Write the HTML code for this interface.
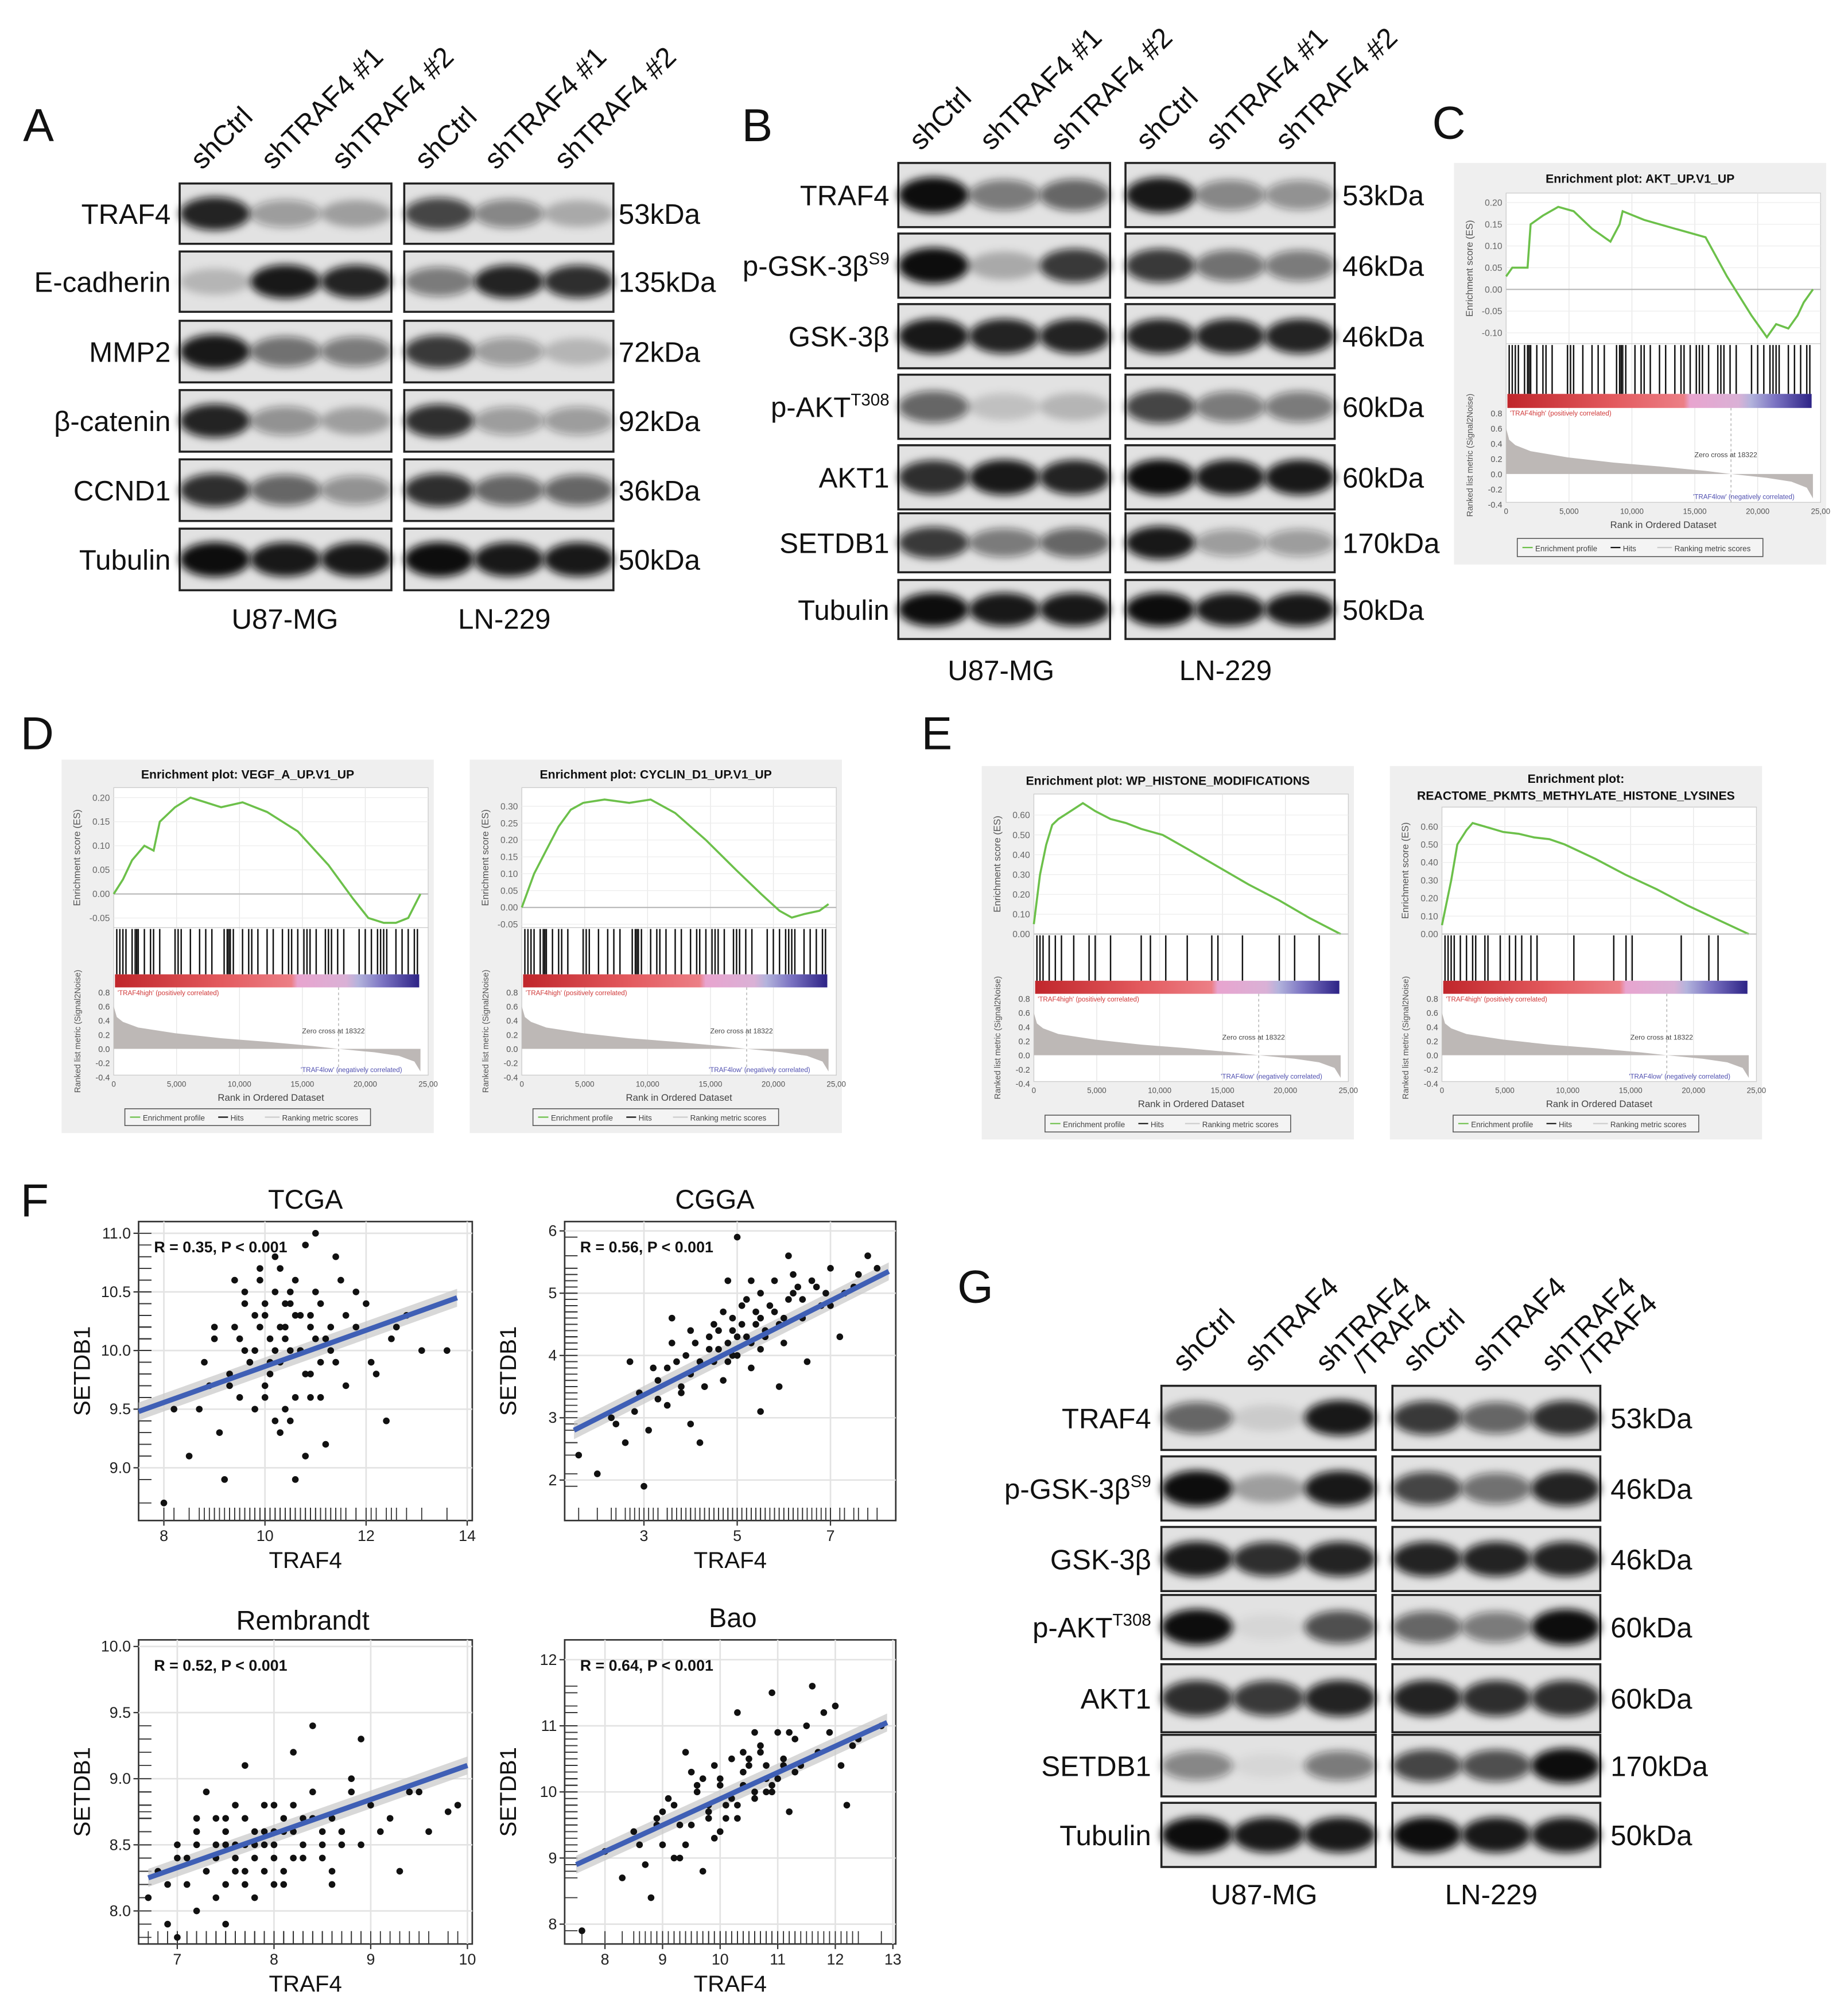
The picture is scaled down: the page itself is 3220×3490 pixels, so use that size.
<!DOCTYPE html>
<html><head><meta charset="utf-8"><style>
html,body{margin:0;padding:0;background:#fff;width:3220px;height:3490px;overflow:hidden}
svg{display:block}
text{font-family:"Liberation Sans",Arial,sans-serif}
</style></head><body>
<svg id="fig" xmlns="http://www.w3.org/2000/svg" width="3220" height="3490" viewBox="0 0 1440 1561" preserveAspectRatio="none">
<defs>
<filter id="blur" x="-20%" y="-50%" width="140%" height="200%"><feGaussianBlur stdDeviation="3.2"/></filter>
<linearGradient id="cbar" x1="0" x2="1" y1="0" y2="0">
<stop offset="0" stop-color="#c0262b"/><stop offset="0.35" stop-color="#e35a5e"/><stop offset="0.58" stop-color="#ec7f86"/><stop offset="0.6" stop-color="#e8a4cf"/><stop offset="0.76" stop-color="#dab1d6"/><stop offset="0.8" stop-color="#b3b3dc"/><stop offset="0.88" stop-color="#7b73c2"/><stop offset="1" stop-color="#2d2386"/></linearGradient>
</defs>
</svg>
<script>
const NS='http://www.w3.org/2000/svg';
const fig=document.getElementById('fig');
function mk(tag,attrs,parent,txt){const e=document.createElementNS(NS,tag);for(const k in attrs)e.setAttribute(k,attrs[k]);if(txt!==undefined)e.textContent=txt;(parent||fig).appendChild(e);return e;}

// ---------------- Western blot data (band intensity per lane, 0..1) ----------------
const blotA_rows=['TRAF4','E-cadherin','MMP2','β-catenin','CCND1','Tubulin'];
const blotA_kda=['53kDa','135kDa','72kDa','92kDa','36kDa','50kDa'];
const blotA_u87=[[0.9,0.35,0.3],[0.2,0.95,0.9],[0.95,0.55,0.5],[0.9,0.4,0.3],[0.85,0.6,0.4],[1,0.95,0.95]];
const blotA_ln=[[0.75,0.45,0.25],[0.5,0.9,0.85],[0.8,0.35,0.2],[0.85,0.35,0.35],[0.85,0.6,0.6],[1,0.95,0.95]];
const blotB_rows=['TRAF4','p-GSK-3β|S9','GSK-3β','p-AKT|T308','AKT1','SETDB1','Tubulin'];
const blotB_kda=['53kDa','46kDa','46kDa','60kDa','60kDa','170kDa','50kDa'];
const blotB_u87=[[1,0.5,0.6],[1,0.25,0.8],[0.95,0.9,0.9],[0.6,0.15,0.2],[0.85,0.95,0.9],[0.8,0.5,0.6],[1,0.95,0.95]];
const blotB_ln=[[0.95,0.45,0.4],[0.8,0.55,0.5],[0.9,0.9,0.9],[0.75,0.5,0.5],[1,0.95,0.95],[0.95,0.35,0.35],[1,0.95,0.95]];
const blotG_rows=['TRAF4','p-GSK-3β|S9','GSK-3β','p-AKT|T308','AKT1','SETDB1','Tubulin'];
const blotG_kda=['53kDa','46kDa','46kDa','60kDa','60kDa','170kDa','50kDa'];
const blotG_u87=[[0.6,0.1,0.95],[1,0.3,0.95],[0.95,0.85,0.9],[1,0.05,0.7],[0.85,0.8,0.9],[0.45,0.05,0.5],[1,0.95,0.95]];
const blotG_ln=[[0.8,0.6,0.85],[0.75,0.55,0.9],[0.9,0.9,0.9],[0.6,0.5,1],[0.9,0.85,0.85],[0.75,0.7,1],[1,0.95,0.95]];

function blot(name,boxes,rowsY,rowLabels,kda,lanes,labelX,kdaX,fs){
  const g=mk('g',{});
  
  
  rowsY.forEach((ry,ri)=>{
    const lab=rowLabels[ri].split('|');
    const t=mk('text',{x:labelX,y:(ry[0]+ry[1])/2+8,'font-size':fs,'text-anchor':'end',fill:'#111'},g,lab[0]);
    if(lab[1]){mk('tspan',{dy:-9,'font-size':fs*0.6},t,lab[1]);}
    
    
    const k=mk('text',{x:kdaX,y:(ry[0]+ry[1])/2+8,'font-size':fs,fill:'#111'},g,kda[ri]);
    
    
    boxes.forEach((bx,bi)=>{
      mk('rect',{x:bx[0],y:ry[0],width:bx[1]-bx[0],height:ry[1]-ry[0],fill:'#e2e2e2',stroke:'#222','stroke-width':1.6},g);
      const vals=lanes[bi][ri];
      const lw=(bx[1]-bx[0])/3;
      vals.forEach((v,li)=>{
        const cx=bx[0]+lw*(li+0.5), cy=(ry[0]+ry[1])/2;
        const b=mk('ellipse',{cx:cx,cy:cy,rx:lw*0.5,ry:(ry[1]-ry[0])*0.2+v*4,fill:'#111','fill-opacity':v,filter:'url(#blur)'},g);
        
        
      });
    });
  });
  return g;
}
function colHeaders(boxes,labels,baseY,fs){
  boxes.forEach(bx=>{
    const lw=(bx[1]-bx[0])/3;
    labels.forEach((l,i)=>{
      const x=bx[0]+lw*(i+0.5)-10;
      const parts=l.split('|');
      const t=mk('text',{x:x,y:baseY,'font-size':fs,fill:'#111',transform:`rotate(-45 ${x} ${baseY})`},fig,parts[0]);
      if(parts[1])mk('tspan',{x:x+20,dy:fs*0.95},t,parts[1]);
      
      
    });
  });
}
function txt(name,x,y,s,fs,opts){const t=mk('text',Object.assign({x:x,y:y,'font-size':fs,fill:'#111'},opts||{}),fig,s);
 
 return t;}

// Panel A
txt('panel-label-a',18,110,'A',36);
const rowsA=[[143,190],[196,243],[250,298],[304,352],[358,406],[412,460]];
blot('blot-a',[[140,305],[315,478]],rowsA,blotA_rows,blotA_kda,[blotA_u87,blotA_ln],133,482,22);
colHeaders([[140,305],[315,478]],['shCtrl','shTRAF4 #1','shTRAF4 #2'],133,22);
txt('cell-line-u87-a',222,490,'U87-MG',22,{'text-anchor':'middle'});
txt('cell-line-ln229-a',393,490,'LN-229',22,{'text-anchor':'middle'});

// Panel B
txt('panel-label-b',578,110,'B',36);
const rowsB=[[127,177],[182,232],[237,287],[292,342],[347,397],[400,446],[452,498]];
blot('blot-b',[[700,865],[877,1040]],rowsB,blotB_rows,blotB_kda,[blotB_u87,blotB_ln],693,1046,22);
colHeaders([[700,865],[877,1040]],['shCtrl','shTRAF4 #1','shTRAF4 #2'],118,22);
txt('cell-line-u87-b',780,530,'U87-MG',22,{'text-anchor':'middle'});
txt('cell-line-ln229-b',955,530,'LN-229',22,{'text-anchor':'middle'});

// Panel G
txt('panel-label-g',746,1015,'G',36);
const rowsG=[[1080,1130],[1135,1185],[1190,1240],[1243,1293],[1297,1350],[1352,1400],[1405,1455]];
blot('blot-g',[[905,1072],[1085,1247]],rowsG,blotG_rows,blotG_kda,[blotG_u87,blotG_ln],897,1255,22);
colHeaders([[905,1072],[1085,1247]],['shCtrl','shTRAF4','shTRAF4|/TRAF4'],1070,22);
txt('cell-line-u87-g',985,1484,'U87-MG',22,{'text-anchor':'middle'});
txt('cell-line-ln229-g',1162,1484,'LN-229',22,{'text-anchor':'middle'});

// ---------------- GSEA data ----------------
const esC_x=[0,0.02,0.05,0.07,0.08,0.12,0.17,0.22,0.28,0.34,0.37,0.38,0.45,0.55,0.65,0.72,0.8,0.85,0.88,0.92,0.95,0.97,1];
const esC_y=[0.03,0.05,0.05,0.05,0.15,0.17,0.19,0.18,0.14,0.11,0.15,0.18,0.16,0.14,0.12,0.03,-0.06,-0.11,-0.08,-0.09,-0.06,-0.03,0];
const esD1_x=[0,0.03,0.06,0.1,0.13,0.15,0.2,0.25,0.3,0.35,0.42,0.5,0.6,0.7,0.78,0.83,0.88,0.92,0.96,1];
const esD1_y=[0,0.03,0.07,0.1,0.09,0.15,0.18,0.2,0.19,0.18,0.19,0.17,0.13,0.06,-0.01,-0.05,-0.06,-0.06,-0.05,0];
const esD2_x=[0,0.04,0.08,0.12,0.16,0.2,0.27,0.35,0.42,0.5,0.6,0.7,0.78,0.84,0.88,0.92,0.97,1];
const esD2_y=[0,0.1,0.17,0.24,0.29,0.31,0.32,0.31,0.32,0.28,0.2,0.11,0.04,-0.01,-0.03,-0.02,-0.01,0.01];
const esE1_x=[0,0.02,0.04,0.06,0.08,0.12,0.16,0.2,0.25,0.3,0.35,0.42,0.5,0.6,0.7,0.8,0.9,1];
const esE1_y=[0.05,0.3,0.45,0.55,0.58,0.62,0.66,0.62,0.58,0.56,0.53,0.5,0.43,0.34,0.25,0.17,0.08,0];
const esE2_x=[0,0.03,0.05,0.08,0.1,0.14,0.2,0.25,0.3,0.35,0.4,0.5,0.6,0.7,0.8,0.9,1];
const esE2_y=[0.05,0.3,0.5,0.58,0.62,0.6,0.57,0.56,0.54,0.53,0.5,0.42,0.33,0.25,0.16,0.08,0];
const hitsDense=[0.01,0.02,0.03,0.04,0.06,0.07,0.075,0.08,0.1,0.12,0.13,0.15,0.2,0.21,0.22,0.25,0.28,0.3,0.32,0.36,0.37,0.375,0.38,0.39,0.42,0.44,0.45,0.47,0.5,0.52,0.55,0.57,0.58,0.6,0.62,0.63,0.64,0.66,0.69,0.7,0.71,0.73,0.75,0.8,0.82,0.84,0.86,0.87,0.88,0.89,0.92,0.94,0.96,0.98,0.99];
const hitsSparse=[0.01,0.02,0.03,0.05,0.07,0.09,0.13,0.18,0.2,0.25,0.35,0.38,0.43,0.5,0.58,0.6,0.68,0.8,0.85,0.93];
const hitsSparse2=[0.01,0.02,0.03,0.04,0.06,0.08,0.1,0.11,0.14,0.15,0.19,0.22,0.24,0.26,0.29,0.31,0.43,0.56,0.6,0.62,0.78,0.87,0.9];
const rankTicks=['0','5,000','10,000','15,000','20,000','25,00'];
const metricTicks=['0.8','0.6','0.4','0.2','0.0','-0.2','-0.4'];

function gsea(name,x,y,w,h,title,title2,xs,ys,ymin,ymax,ticks,hits){
  const g=mk('g',{});
  
  
  mk('rect',{x:x,y:y,width:w,height:h,fill:'#efefef'},g);
  const L=x+w*0.14,R=x+w*0.985;
  const tY=title2?y+h*0.035:y+h*0.04;
  mk('text',{x:x+w*0.5,y:tY+3,'font-size':9.5,'font-weight':'bold','text-anchor':'middle',fill:'#111'},g,title);
  if(title2)mk('text',{x:x+w*0.5,y:tY+16,'font-size':9.5,'font-weight':'bold','text-anchor':'middle',fill:'#111'},g,title2);
  const esT=y+h*(title2?0.11:0.075),esB=y+h*0.45,hitB=y+h*0.575,cbB=y+h*0.61,mB=y+h*0.845;
  mk('rect',{x:L,y:esT,width:R-L,height:mB-esT,fill:'#fff',stroke:'#ccc','stroke-width':0.6},g);
  const sy=v=>esB-(v-ymin)/(ymax-ymin)*(esB-esT-4);
  const sx=f=>L+f*(R-L-6);
  for(let i=1;i<5;i++)mk('line',{x1:L+(R-L)*i/5,x2:L+(R-L)*i/5,y1:esT,y2:mB,stroke:'#e6e6e6','stroke-width':0.6},g);
  ticks.forEach(t=>{mk('line',{x1:L,x2:R,y1:sy(t),y2:sy(t),stroke:t===0?'#bbb':'#eee','stroke-width':t===0?1:0.6},g);
    mk('text',{x:L-3,y:sy(t)+2.5,'font-size':7,'text-anchor':'end',fill:'#666'},g,t.toFixed(2));});
  mk('text',{x:x+w*0.05,y:(esT+esB)/2,'font-size':7.5,'text-anchor':'middle',fill:'#555',transform:`rotate(-90 ${x+w*0.05} ${(esT+esB)/2})`},g,'Enrichment score (ES)');
  let d='';xs.forEach((f,i)=>{d+=(i?'L':'M')+sx(f).toFixed(1)+','+sy(ys[i]).toFixed(1);});
  const es=mk('path',{d:d,fill:'none',stroke:'#6cc04a','stroke-width':1.6},g);
  
  
  mk('line',{x1:L,x2:R,y1:esB,y2:esB,stroke:'#ccc','stroke-width':0.6},g);
  hits.forEach(f=>{const hl=mk('line',{x1:sx(f),x2:sx(f),y1:esB+1,y2:hitB,stroke:'#111','stroke-width':1.1},g);
    
    });
  mk('rect',{x:L+1,y:hitB,width:R-L-8,height:cbB-hitB,fill:'url(#cbar)'},g);
  const mT=cbB,zeroY=mT+(mB-mT)*0.7,unit=(mB-mT)/6.2;
  const my=v=>zeroY-v*unit/0.2*1;
  metricTicks.forEach((t,i)=>{const v=parseFloat(t);mk('text',{x:L-3,y:my(v)+2.5,'font-size':6.5,'text-anchor':'end',fill:'#555'},g,t);});
  const zc=sx(0.733);
  let p=`M${sx(0)},${zeroY} L${sx(0)},${my(0.6)} `;
  [[0.01,0.45],[0.03,0.38],[0.08,0.3],[0.2,0.22],[0.35,0.15],[0.5,0.1],[0.65,0.04],[0.733,0],[0.85,-0.05],[0.93,-0.1],[0.98,-0.18],[1,-0.32]].forEach(q=>{p+=`L${sx(q[0]).toFixed(1)},${my(q[1]).toFixed(1)} `;});
  p+=`L${sx(1)},${zeroY} Z`;
  mk('path',{d:p,fill:'#bdb8b6'},g);
  mk('line',{x1:zc,x2:zc,y1:cbB,y2:mB,stroke:'#aaa','stroke-dasharray':'2,2','stroke-width':0.6},g);
  mk('text',{x:zc-4,y:my(0.22),'font-size':5.5,'text-anchor':'middle',fill:'#444'},g,'Zero cross at 18322');
  mk('text',{x:L+3,y:cbB+6,'font-size':5.2,fill:'#d03838'},g,"'TRAF4high' (positively correlated)");
  mk('text',{x:sx(0.94),y:my(-0.33),'font-size':5.2,'text-anchor':'end',fill:'#5050b0'},g,"'TRAF4low' (negatively correlated)");
  mk('text',{x:x+w*0.05,y:(cbB+mB)/2,'font-size':6.5,'text-anchor':'middle',fill:'#555',transform:`rotate(-90 ${x+w*0.05} ${(cbB+mB)/2})`},g,'Ranked list metric (Signal2Noise)');
  rankTicks.forEach((t,i)=>{mk('text',{x:L+(R-L)*i/5,y:mB+9,'font-size':6,'text-anchor':'middle',fill:'#555'},g,t);});
  mk('text',{x:(L+R)/2,y:mB+20,'font-size':7.5,'text-anchor':'middle',fill:'#444'},g,'Rank in Ordered Dataset');
  const lx=x+w*0.17,ly=y+h*0.935,lw=w*0.66;
  mk('rect',{x:lx,y:ly,width:lw,height:h*0.045,fill:'#f4f4f4',stroke:'#555','stroke-width':0.7},g);
  mk('line',{x1:lx+4,x2:lx+12,y1:ly+h*0.0225,y2:ly+h*0.0225,stroke:'#6cc04a'},g);
  mk('text',{x:lx+14,y:ly+h*0.032,'font-size':6,fill:'#444'},g,'Enrichment profile');
  mk('line',{x1:lx+lw*0.38,x2:lx+lw*0.42,y1:ly+h*0.0225,y2:ly+h*0.0225,stroke:'#111'},g);
  mk('text',{x:lx+lw*0.43,y:ly+h*0.032,'font-size':6,fill:'#444'},g,'Hits');
  mk('line',{x1:lx+lw*0.57,x2:lx+lw*0.63,y1:ly+h*0.0225,y2:ly+h*0.0225,stroke:'#ccc'},g);
  mk('text',{x:lx+lw*0.64,y:ly+h*0.032,'font-size':6,fill:'#444'},g,'Ranking metric scores');
}
txt('panel-label-c',1116,108,'C',36);
gsea('gsea-akt',1133,127,290,313,'Enrichment plot: AKT_UP.V1_UP',null,esC_x,esC_y,-0.125,0.21,[0.2,0.15,0.1,0.05,0,-0.05,-0.1],hitsDense);
txt('panel-label-d',16,584,'D',36);
gsea('gsea-vegf',48,592,290,291,'Enrichment plot: VEGF_A_UP.V1_UP',null,esD1_x,esD1_y,-0.07,0.21,[0.2,0.15,0.1,0.05,0,-0.05],hitsDense);
gsea('gsea-cyclin',366,592,290,291,'Enrichment plot: CYCLIN_D1_UP.V1_UP',null,esD2_x,esD2_y,-0.06,0.34,[0.3,0.25,0.2,0.15,0.1,0.05,0,-0.05],hitsDense);
txt('panel-label-e',718,584,'E',36);
gsea('gsea-histone',765,597,290,291,'Enrichment plot: WP_HISTONE_MODIFICATIONS',null,esE1_x,esE1_y,0,0.68,[0.6,0.5,0.4,0.3,0.2,0.1,0],hitsSparse);
gsea('gsea-pkmts',1083,597,290,291,'Enrichment plot:','REACTOME_PKMTS_METHYLATE_HISTONE_LYSINES',esE2_x,esE2_y,0,0.68,[0.6,0.5,0.4,0.3,0.2,0.1,0],hitsSparse2);

// ---------------- Scatter data ----------------
const tcga_x=[8.2,8.5,8.8,9.0,9.1,9.3,9.4,9.5,9.6,9.7,9.8,9.9,10.0,10.0,10.1,10.2,10.2,10.3,10.4,10.5,10.5,10.6,10.7,10.8,10.9,11.0,11.1,11.2,11.3,11.5,11.6,11.8,12.0,12.2,12.5,12.8,13.1,13.6,9.2,9.9,10.4,10.8,11.4,9.6,10.6,11.0,8.0,10.3,12.4,9.4,
 9.5,9.8,10.1,10.3,10.5,10.7,10.9,11.1,11.3,10.0,10.2,10.4,10.6,10.8,11.0,9.7,9.9,10.6,10.9,11.2,11.6,12.1,9.3,9.0,8.7,10.4,10.1,10.7,11.4,11.8,10.3,10.5,9.6,10.9,11.1,10.2,10.0,12.6,8.9,9.8];
const tcga_y=[9.5,9.1,9.9,10.1,9.3,9.8,10.2,9.6,10.4,9.9,10.0,10.6,9.7,10.3,10.1,9.4,10.8,9.9,10.2,10.0,10.5,9.6,10.3,10.9,9.8,10.1,10.4,9.2,10.0,10.6,9.7,10.2,10.4,9.8,10.1,10.3,10.0,10.0,8.9,10.7,9.5,9.1,10.8,10.5,8.9,11.0,8.7,9.3,9.4,10.6,
 10.1,10.3,9.9,10.2,10.4,10.0,10.3,9.9,10.2,9.6,10.5,10.1,10.3,9.8,10.5,9.9,10.2,10.6,9.6,10.1,10.3,9.9,9.7,10.2,9.5,10.4,9.8,10.0,9.9,10.5,10.7,9.4,10.0,10.2,9.6,10.0,10.4,10.2,9.7,9.5];
const cgga_x=[1.6,2.0,2.3,2.6,2.9,3.1,3.3,3.5,3.7,3.8,4.0,4.1,4.3,4.4,4.5,4.6,4.7,4.8,4.9,5.0,5.1,5.2,5.3,5.4,5.5,5.6,5.8,6.0,6.2,6.4,6.6,6.8,7.0,7.3,7.6,8.0,3.0,4.2,5.5,6.1,4.8,3.6,5.9,7.2,2.7,6.5,5.0,4.0,
 3.5,3.9,4.2,4.4,4.6,4.9,5.1,5.3,5.5,5.7,5.9,6.1,6.3,4.0,4.7,5.2,5.6,6.0,6.4,6.7,7.0,3.3,3.8,4.5,5.0,5.4,5.8,2.4,2.8,3.2,4.8,5.3,6.9,7.5,7.8,4.3,4.9,5.5,6.2,3.6];
const cgga_y=[2.4,2.1,3.0,2.6,3.4,2.8,3.6,3.2,3.9,3.4,3.7,4.2,3.5,4.1,3.9,4.4,3.6,4.2,4.6,4.0,4.8,4.3,3.8,4.5,5.0,4.4,4.7,4.2,5.0,4.6,5.2,4.8,5.4,5.0,5.3,5.4,1.9,2.6,3.1,5.6,5.2,4.6,3.5,4.3,3.9,3.9,5.9,2.9,
 3.8,4.0,3.9,4.3,4.1,4.4,4.5,4.2,4.6,4.8,4.5,4.9,5.1,4.4,4.7,4.9,4.3,4.6,4.9,5.1,4.8,3.3,3.5,4.5,4.3,4.7,5.2,2.9,3.1,3.8,3.9,5.2,5.0,5.1,5.6,3.5,4.0,4.1,5.3,4.2];
const rem_x=[6.7,6.8,6.9,7.0,7.1,7.2,7.2,7.3,7.4,7.5,7.5,7.6,7.7,7.8,7.8,7.9,8.0,8.0,8.1,8.2,8.3,8.4,8.5,8.6,8.7,8.8,8.9,9.0,9.2,9.4,9.6,9.9,7.3,7.7,8.2,8.6,7.0,8.9,9.3,7.5,8.4,9.8,
 7.2,7.4,7.5,7.6,7.7,7.8,7.9,8.0,8.1,8.2,7.3,7.5,7.7,7.9,8.1,8.3,8.5,8.7,7.1,7.4,7.6,7.8,8.0,8.2,8.4,8.6,8.8,9.1,6.9,7.0,7.6,7.9,8.3,8.0,7.7,7.2,8.5,9.5,7.4,8.1];
const rem_y=[8.1,8.3,7.9,8.4,8.2,8.6,8.0,8.3,8.5,8.2,8.7,8.4,8.3,8.6,8.1,8.5,8.4,8.8,8.2,8.6,8.5,8.9,8.4,8.7,8.6,9.0,8.5,8.8,8.7,8.9,8.6,8.8,8.9,9.1,9.2,8.2,7.8,9.3,8.3,7.9,9.4,8.75,
 8.5,8.4,8.6,8.5,8.7,8.4,8.6,8.5,8.7,8.4,8.3,8.5,8.2,8.8,8.6,8.7,8.6,8.5,8.4,8.7,8.3,8.5,8.2,8.8,8.7,8.3,8.9,8.6,8.2,8.5,8.8,8.3,8.4,8.6,8.5,8.7,8.5,8.9,8.1,8.3];
const bao_x=[7.6,8.0,8.3,8.5,8.7,8.9,9.0,9.2,9.3,9.5,9.6,9.8,9.9,10.0,10.1,10.2,10.3,10.4,10.5,10.6,10.7,10.8,10.9,11.0,11.1,11.3,11.5,11.7,11.9,12.1,12.4,12.8,9.4,10.3,11.2,8.8,10.9,11.6,9.7,12.2,
 9.0,9.3,9.6,9.8,10.0,10.2,10.4,10.6,10.8,11.0,9.4,9.7,10.1,10.5,10.9,11.3,9.1,9.9,10.3,10.7,11.1,8.6,8.9,9.5,10.0,10.6,11.4,11.8,12.3,9.2,9.8,10.4,10.8,11.2,12.0];
const bao_y=[7.9,9.1,8.7,9.4,8.9,9.6,9.2,9.8,9.0,9.5,10.1,9.7,9.3,10.2,9.8,10.5,9.6,10.1,10.4,9.9,10.7,10.2,10.0,10.9,10.5,10.3,11.0,10.6,10.9,10.4,10.8,11.0,10.6,11.2,9.7,8.4,11.5,11.6,8.8,9.8,
 9.7,9.5,10.0,9.8,10.1,9.9,10.3,10.0,10.4,10.2,9.2,10.2,9.6,10.5,10.1,10.8,9.9,10.4,9.8,10.6,10.4,9.2,9.5,10.3,9.4,10.9,10.4,11.2,10.7,9.0,9.6,10.6,10.0,10.9,11.3];
const scatters=[
 {name:'tcga',title:'TCGA',x0:108,x1:368,y0:952,y1:1185,xr:[7.5,14.1],yr:[8.55,11.1],xt:[8,10,12,14],yt:[9.0,9.5,10.0,10.5,11.0],xs:tcga_x,ys:tcga_y,fit:[[7.5,9.48],[13.8,10.45]],r:'R = 0.35, P < 0.001',tx:238,ty:942},
 {name:'cgga',title:'CGGA',x0:440,x1:698,y0:952,y1:1185,xr:[1.3,8.4],yr:[1.35,6.15],xt:[3,5,7],yt:[2,3,4,5,6],xs:cgga_x,ys:cgga_y,fit:[[1.5,2.8],[8.25,5.35]],r:'R = 0.56, P < 0.001',tx:557,ty:942},
 {name:'rembrandt',title:'Rembrandt',x0:108,x1:368,y0:1278,y1:1515,xr:[6.6,10.05],yr:[7.75,10.05],xt:[7,8,9,10],yt:[8.0,8.5,9.0,9.5,10.0],xs:rem_x,ys:rem_y,fit:[[6.7,8.25],[10,9.1]],r:'R = 0.52, P < 0.001',tx:236,ty:1270},
 {name:'bao',title:'Bao',x0:440,x1:698,y0:1278,y1:1515,xr:[7.3,13.05],yr:[7.7,12.3],xt:[8,9,10,11,12,13],yt:[8,9,10,11,12],xs:bao_x,ys:bao_y,fit:[[7.5,8.9],[12.9,11.05]],r:'R = 0.64, P < 0.001',tx:571,ty:1268}
];
txt('panel-label-f',16,948,'F',36);
scatters.forEach(s=>{
  const g=mk('g',{});
  
  
  const X=v=>s.x0+(v-s.xr[0])/(s.xr[1]-s.xr[0])*(s.x1-s.x0);
  const Y=v=>s.y1-(v-s.yr[0])/(s.yr[1]-s.yr[0])*(s.y1-s.y0);
  mk('rect',{x:s.x0,y:s.y0,width:s.x1-s.x0,height:s.y1-s.y0,fill:'#fff',stroke:'#333','stroke-width':1.2},g);
  s.xt.forEach(t=>{mk('line',{x1:X(t),x2:X(t),y1:s.y0,y2:s.y1,stroke:'#e3e3e3','stroke-width':1.2},g);
    mk('line',{x1:X(t),x2:X(t),y1:s.y1,y2:s.y1+4,stroke:'#333'},g);
    mk('text',{x:X(t),y:s.y1+16,'font-size':12,'text-anchor':'middle',fill:'#222'},g,String(t));});
  s.yt.forEach(t=>{mk('line',{x1:s.x0,x2:s.x1,y1:Y(t),y2:Y(t),stroke:'#e3e3e3','stroke-width':1.2},g);
    mk('line',{x1:s.x0-4,x2:s.x0,y1:Y(t),y2:Y(t),stroke:'#333'},g);
    mk('text',{x:s.x0-6,y:Y(t)+4,'font-size':12,'text-anchor':'end',fill:'#222'},g,(s.name==='tcga'||s.name==='rembrandt')?t.toFixed(1):String(t));});
  s.xs.forEach((v,i)=>{mk('line',{x1:X(v),x2:X(v),y1:s.y1-10,y2:s.y1,stroke:'#333','stroke-width':0.8},g);
    mk('line',{x1:s.x0,x2:s.x0+10,y1:Y(s.ys[i]),y2:Y(s.ys[i]),stroke:'#333','stroke-width':0.8},g);});
  const f=s.fit;
  mk('path',{d:`M${X(f[0][0])},${Y(f[0][1])-7} L${X(f[1][0])},${Y(f[1][1])-7} L${X(f[1][0])},${Y(f[1][1])+7} L${X(f[0][0])},${Y(f[0][1])+7} Z`,fill:'#c8c8c8','fill-opacity':0.7},g);
  s.xs.forEach((v,i)=>{const c=mk('circle',{cx:X(v),cy:Y(s.ys[i]),r:2.6,fill:'#111'},g);
    
    });
  const fl=mk('line',{x1:X(f[0][0]),y1:Y(f[0][1]),x2:X(f[1][0]),y2:Y(f[1][1]),stroke:'#3f5fb5','stroke-width':4},g);
  
  
  mk('text',{x:s.x0+12,y:s.y0+24,'font-size':12,'font-weight':'bold',fill:'#111'},g,s.r);
  mk('text',{x:s.tx,y:s.ty,'font-size':21,'text-anchor':'middle',fill:'#111'},g,s.title);
  mk('text',{x:(s.x0+s.x1)/2,y:s.y1+37,'font-size':18,'text-anchor':'middle',fill:'#111'},g,'TRAF4');
  const yc=(s.y0+s.y1)/2,xl=s.x0-38;
  mk('text',{x:xl,y:yc,'font-size':18,'text-anchor':'middle',fill:'#111',transform:`rotate(-90 ${xl} ${yc})`},g,'SETDB1');
});
</script>
</body></html>
